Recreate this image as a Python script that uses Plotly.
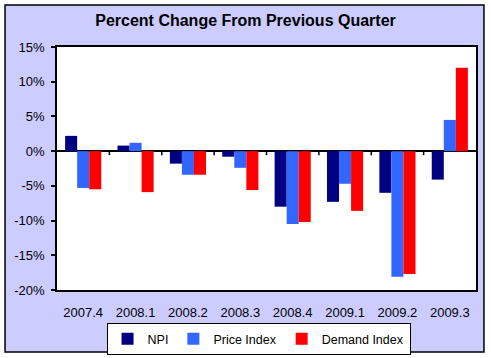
import plotly.graph_objects as go

quarters = ["2007.4", "2008.1", "2008.2", "2008.3", "2008.4", "2009.1", "2009.2", "2009.3"]
npi = [2.2, 0.8, -1.8, -0.8, -8.0, -7.3, -6.0, -4.1]
price_index = [-5.3, 1.2, -3.4, -2.4, -10.5, -4.7, -18.1, 4.5]
demand_index = [-5.5, -5.9, -3.4, -5.6, -10.2, -8.6, -17.7, 12.0]
y_ticks = [15, 10, 5, 0, -5, -10, -15, -20]

FONT = "Liberation Sans, Arial, sans-serif"

fig = go.Figure()
fig.add_trace(go.Bar(x=quarters, y=npi, name="NPI", marker=dict(color="#000080", line=dict(width=0))))
fig.add_trace(go.Bar(x=quarters, y=price_index, name="Price Index", marker=dict(color="#3366FF", line=dict(width=0))))
fig.add_trace(go.Bar(x=quarters, y=demand_index, name="Demand Index", marker=dict(color="#FF0000", line=dict(width=0))))

shapes = []
# outer chart area
shapes.append(dict(type="rect", xref="paper", yref="paper", x0=-0.124, x1=1.019, y0=-0.255, y1=1.173,
                   fillcolor="#CCCCFF", line=dict(color="black", width=1.5), layer="below"))
# plot area background
shapes.append(dict(type="rect", xref="paper", yref="paper", x0=0, x1=1, y0=0, y1=1,
                   fillcolor="white", line=dict(width=0), layer="below"))
# x tick marks on zero line at category boundaries
for i in range(len(quarters) - 1):
    shapes.append(dict(type="line", xref="x", yref="y", x0=i + 0.5, x1=i + 0.5,
                       ysizemode="pixel", yanchor=0, y0=0, y1=-4,
                       line=dict(color="black", width=1.5)))

fig.update_layout(
    width=491, height=358,
    margin=dict(l=57, r=15, t=47, b=68),
    paper_bgcolor="white",
    plot_bgcolor="white",
    barmode="group",
    bargap=0.31,
    bargroupgap=0,
    font=dict(family=FONT, size=13, color="black"),
    title=dict(text="<b>Percent Change From Previous Quarter</b>", x=0.5, xanchor="center",
               y=1 - 20 / 358, yanchor="middle", font=dict(family=FONT, size=16, color="black")),
    xaxis=dict(showline=True, linecolor="black", linewidth=1.5, mirror=True, ticks="",
               showgrid=False, ticklabelstandoff=10, tickfont=dict(size=13), automargin=False),
    yaxis=dict(range=[-20, 15], tickvals=y_ticks, ticktext=[f"{v}%" for v in y_ticks],
               showline=True, linecolor="black", linewidth=1.5, mirror=True,
               ticks="outside", ticklen=4, tickwidth=1.5, tickcolor="black",
               showgrid=False, zeroline=True, zerolinecolor="black", zerolinewidth=1.5,
               ticklabelstandoff=4, tickfont=dict(size=13), automargin=False),
    legend=dict(orientation="h", x=0.481, xanchor="center", yref="container",
                y=1 - 323 / 358, yanchor="top",
                bgcolor="white", bordercolor="black", borderwidth=1,
                font=dict(family=FONT, size=12.5), itemwidth=30, traceorder="normal",
                tracegroupgap=0),
    shapes=shapes,
)

fig.write_html("out.html", config={"displayModeBar": False},
               post_script="document.body.style.margin='0';document.body.style.overflow='hidden';")
